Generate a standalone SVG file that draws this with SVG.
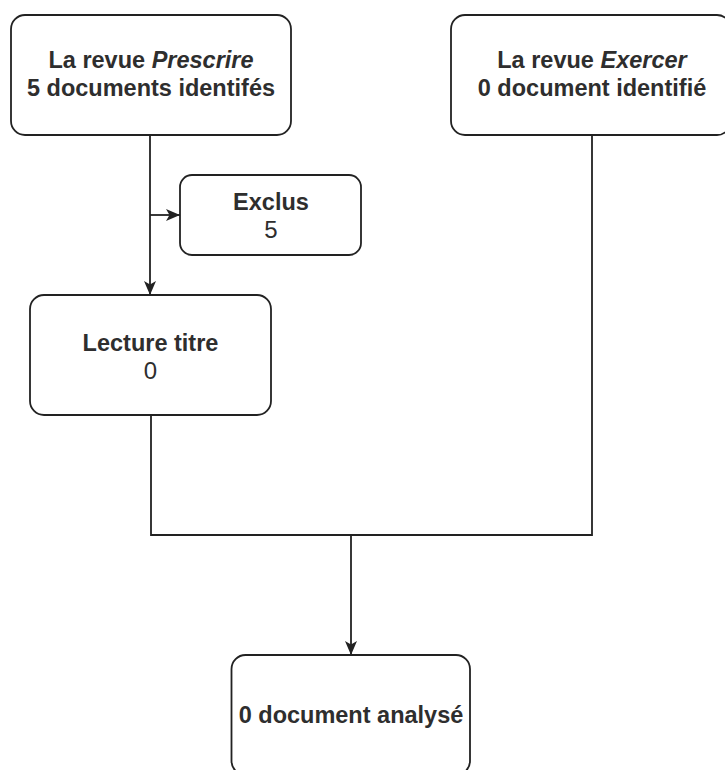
<svg xmlns="http://www.w3.org/2000/svg" width="725" height="770" viewBox="0 0 725 770">
  <style>
    .box { fill: #ffffff; stroke: #222222; stroke-width: 1.8; }
    .conn { fill: none; stroke: #222222; stroke-width: 1.8; }
    text { font-family: "Liberation Sans", Arial, sans-serif; font-size: 23.5px; font-weight: bold; fill: #2e2e2e; text-anchor: middle; }
    .it { font-style: italic; }
    .reg { font-weight: normal; font-size: 24px; }
  </style>
  <defs>
    <marker id="arrow" viewBox="0 0 14 12" refX="14" refY="6" markerWidth="14" markerHeight="12" markerUnits="userSpaceOnUse" orient="auto">
      <path d="M0,0 L14,6 L0,12 L3.5,6 Z" fill="#222222"/>
    </marker>
  </defs>
  <rect width="725" height="770" fill="#ffffff"/>
  <g id="connectors">
    <path class="conn" d="M150,135 L150,295" marker-end="url(#arrow)"/>
    <path class="conn" d="M150,215 L180,215" marker-end="url(#arrow)"/>
    <path class="conn" d="M151,415 L151,535 L592,535 L592,135"/>
    <path class="conn" d="M351,535 L351,655" marker-end="url(#arrow)"/>
  </g>
  <g id="prescrire">
    <rect class="box" x="11" y="15" width="280" height="120" rx="14" ry="14"/>
    <text x="151" y="68">La revue <tspan class="it">Prescrire</tspan></text>
    <text x="151" y="96">5 documents identifés</text>
  </g>
  <g id="exercer">
    <rect class="box" x="451" y="15" width="280" height="120" rx="14" ry="14"/>
    <text x="592" y="68">La revue <tspan class="it">Exercer</tspan></text>
    <text x="592" y="96">0 document identifié</text>
  </g>
  <g id="exclus">
    <rect class="box" x="180" y="175" width="181" height="80" rx="12" ry="12"/>
    <text x="271" y="210">Exclus</text>
    <text class="reg" x="271" y="238">5</text>
  </g>
  <g id="lecture">
    <rect class="box" x="30" y="295" width="241" height="120" rx="14" ry="14"/>
    <text x="150.5" y="351">Lecture titre</text>
    <text class="reg" x="150.5" y="379">0</text>
  </g>
  <g id="analyse">
    <rect class="box" x="231.5" y="655" width="238.5" height="120" rx="14" ry="14"/>
    <text x="351" y="723">0 document analysé</text>
  </g>
</svg>
